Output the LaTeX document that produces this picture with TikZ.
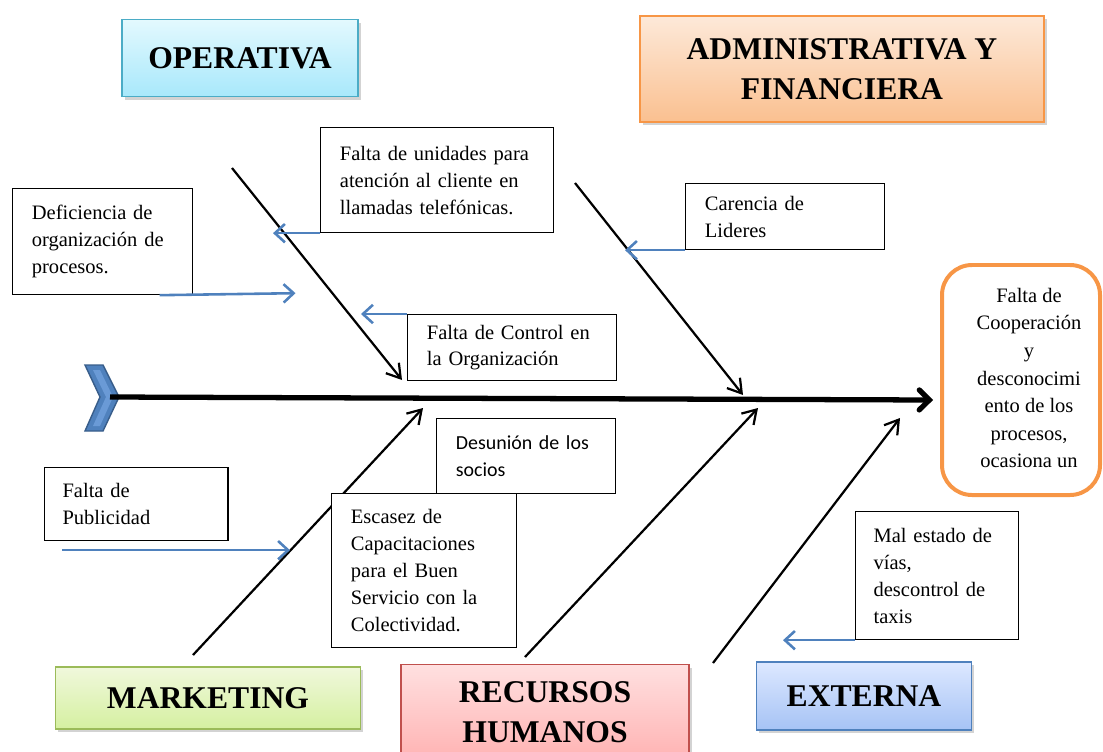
\documentclass[tikz,border=0pt]{standalone}
\usepackage{fontspec}
\setmainfont{Liberation Serif}
\newfontfamily\calibri{Carlito}
\usetikzlibrary{arrows.meta,shadows,positioning}
\definecolor{azul}{HTML}{4F81BD}
\definecolor{azuloscuro}{HTML}{385D8A}
\definecolor{azulclaro}{HTML}{6A9AD6}
\definecolor{naranja}{HTML}{F79646}
\definecolor{cianborde}{HTML}{4BACC6}
\definecolor{cianarriba}{HTML}{E3F9FE}
\definecolor{cianabajo}{HTML}{A8E8FB}
\definecolor{naranjaarriba}{HTML}{FDE9D9}
\definecolor{naranjaabajo}{HTML}{FAC090}
\definecolor{verdeborde}{HTML}{9BBB59}
\definecolor{verdearriba}{HTML}{F0F8DC}
\definecolor{verdeabajo}{HTML}{D5F0A0}
\definecolor{rojoborde}{HTML}{C0504D}
\definecolor{rojoarriba}{HTML}{FFE0E0}
\definecolor{rojoabajo}{HTML}{FFB3B3}
\definecolor{azularriba}{HTML}{DDE8FF}
\definecolor{azulabajo}{HTML}{A6C3F5}
\tikzset{
  causa/.style={draw=black, line width=1pt, fill=white, anchor=north west, align=left,
    inner xsep=0.58cm, inner ysep=0pt, font=\fontsize{17.5}{23}\selectfont},
  area/.style n args={3}{draw=#1, line width=1.6pt, top color=#2, bottom color=#3,
    align=center, font=\bfseries\fontsize{27}{34}\selectfont,
    drop shadow={opacity=0.35, shadow xshift=0.08cm, shadow yshift=-0.1cm}},
  flecha/.style={draw=azul, line width=2.2pt, -{Straight Barb[length=0.3cm,width=0.55cm]}},
  hueso/.style={line width=1.9pt, -{Straight Barb[length=0.4cm,width=0.5cm]}},
  espina/.style={line width=4.5pt, -{Straight Barb[length=0.3cm,width=0.6cm,line cap=round]}}
}
\begin{document}
\begin{tikzpicture}[x=0.03cm,y=-0.03cm]
\useasboundingbox (0,0) rectangle (1103,751);
\clip (0,0) rectangle (1103,751);

\node[area={cianborde}{cianarriba}{cianabajo}, minimum width=7.08cm, minimum height=2.31cm] (operativa) at (240,58) {OPERATIVA};
\node[area={naranja}{naranjaarriba}{naranjaabajo}, minimum width=12.12cm, minimum height=3.18cm] (administrativa) at (842,69) {ADMINISTRATIVA Y\\FINANCIERA};
\node[area={verdeborde}{verdearriba}{verdeabajo}, minimum width=9.15cm, minimum height=1.86cm] (marketing) at (208,698) {MARKETING};
\node[area={rojoborde}{rojoarriba}{rojoabajo}, minimum width=8.64cm, minimum height=2.85cm] (recursos) at (545,712) {RECURSOS\\HUMANOS};
\node[area={azul}{azularriba}{azulabajo}, minimum width=6.45cm, minimum height=2.04cm] (externa) at (864,696) {EXTERNA};

\coordinate (cola) at (110,397);
\coordinate (cabeza) at (933,400);
\coordinate (h1) at (232,168); \coordinate (t1) at (402,380);
\coordinate (h2) at (575,183); \coordinate (t2) at (743,395);
\coordinate (h3) at (193,655); \coordinate (t3) at (423,408);
\coordinate (h4) at (525,657); \coordinate (t4) at (758,408);
\coordinate (h5) at (713,663); \coordinate (t5) at (900,418);

\filldraw[fill=azul, draw=azuloscuro, line width=1.2pt] (85,365) -- (103,365) -- (119,397) -- (103,431) -- (85,431) -- (100,397) -- cycle;
\fill[azulclaro] (93,370) -- (100,370) -- (113,397) -- (100,426) -- (93,426) -- (106,397) -- cycle;
\draw[espina] (cola) -- (cabeza);
\draw[hueso] (h1) -- (t1);
\draw[hueso] (h2) -- (t2);
\draw[hueso] (h3) -- (t3);
\draw[hueso] (h4) -- (t4);
\draw[hueso] (h5) -- (t5);

\node[causa, text width=4.23cm, minimum height=3.18cm] (deficiencia) at (12,188) {Deficiencia de\\organización de\\procesos.};
\node[causa, text width=5.83cm, minimum height=3.15cm] (unidades) at (320,127) {Falta de unidades para\\atención al cliente en\\llamadas telefónicas.};
\node[causa, text width=4.81cm, minimum height=1.98cm] (lideres) at (685,183) {Carencia de\\Lideres};
\node[causa, text width=5.11cm, minimum height=1.98cm] (control) at (407,314) {Falta de Control en\\la Organización};
\node[causa, text width=4.21cm, minimum height=2.25cm, font=\calibri\fontsize{17}{23}\selectfont] (desunion) at (436,418) {Desunión de los\\socios};
\node[causa, text width=4.42cm, minimum height=2.19cm, inner xsep=0.54cm] (publicidad) at (44,467) {Falta de\\Publicidad};
\node[causa, text width=4.39cm, minimum height=4.62cm] (escasez) at (331,493) {Escasez de\\Capacitaciones\\para el Buen\\Servicio con la\\Colectividad.};
\node[causa, text width=3.81cm, minimum height=3.84cm, inner xsep=0.54cm] (vias) at (855,511) {Mal estado de\\vías,\\descontrol de\\taxis};

\draw[naranja, line width=3.4pt, rounded corners=0.9cm] (942,265) rectangle (1100,495);
\node[align=center, font=\fontsize{17.5}{23.5}\selectfont] (efecto) at (1029,378) {Falta de\\Cooperación\\y\\desconocimi\\ento de los\\procesos,\\ocasiona un};

\draw[flecha] (unidades.south west) -- ++(-47,0);
\draw[flecha] ([xshift=-1cm]deficiencia.south east) -- ++(136,-2);
\draw[flecha] (control.north west) -- ++(-46,0);
\draw[flecha] (lideres.south west) -- ++(-60,0);
\draw[flecha] ([shift={(18,9)}]publicidad.south west) -- ++(228,0);
\draw[flecha] (vias.south west) -- ++(-72,0);
\end{tikzpicture}
\end{document}
